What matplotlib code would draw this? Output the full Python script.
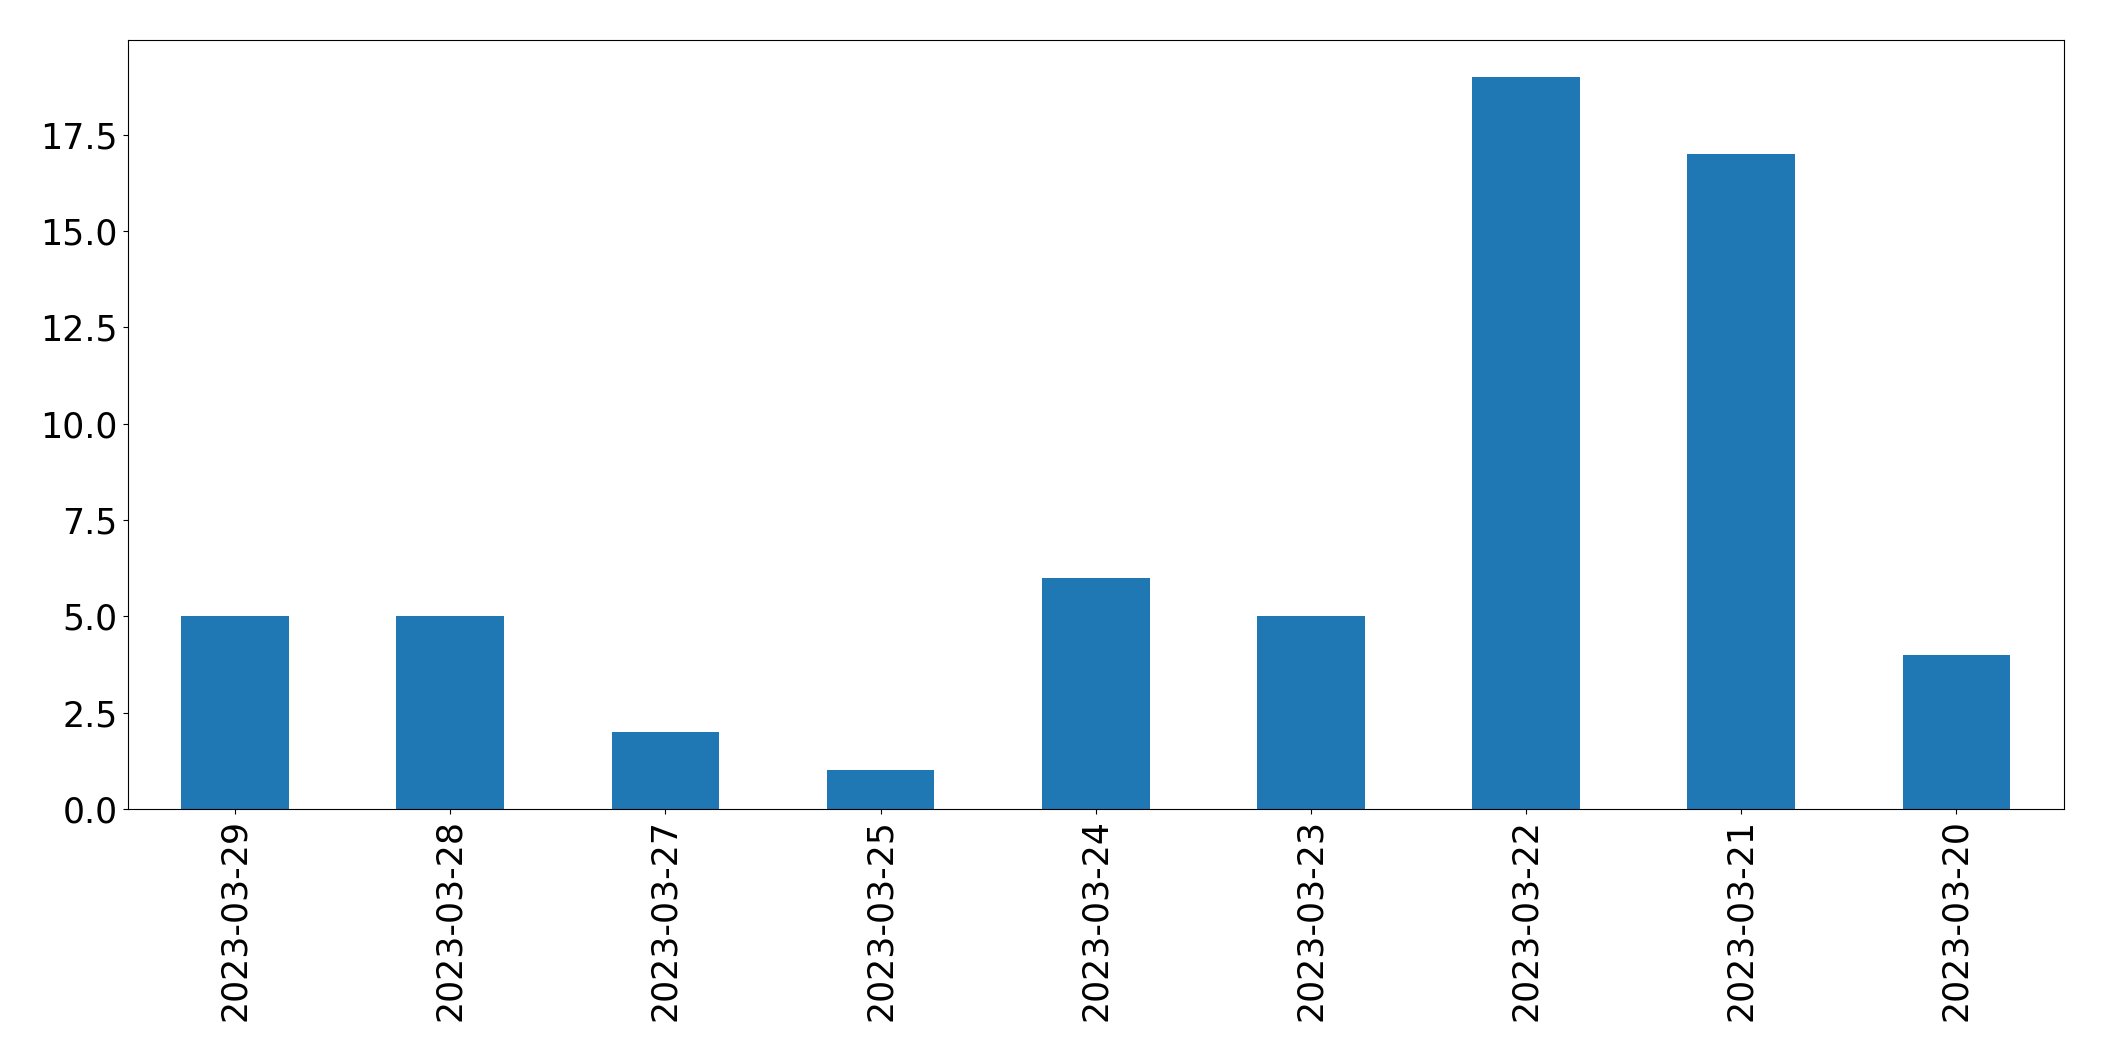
import matplotlib
matplotlib.use("Agg")
import matplotlib.pyplot as plt
import numpy as np

# dates (as ordered in the chart) and counts
dates = ["2023-03-29", "2023-03-28", "2023-03-27", "2023-03-25", "2023-03-24",
         "2023-03-23", "2023-03-22", "2023-03-21", "2023-03-20"]
counts = [5, 5, 2, 1, 6, 5, 19, 17, 4]

fig, ax = plt.subplots(figsize=(21.04, 10.61), dpi=100)
x = np.arange(len(dates))
ax.bar(x, counts, width=0.5, color="#1f77b4")
ax.set_xticks(x)
ax.set_xticklabels(dates, rotation=90)
ax.set_xlim(-0.5, len(dates) - 0.5)
ax.tick_params(axis="both", labelsize=25)
fig.subplots_adjust(left=0.0606, right=0.981, bottom=0.2375, top=0.962)
fig.savefig("out.png", dpi=100)
